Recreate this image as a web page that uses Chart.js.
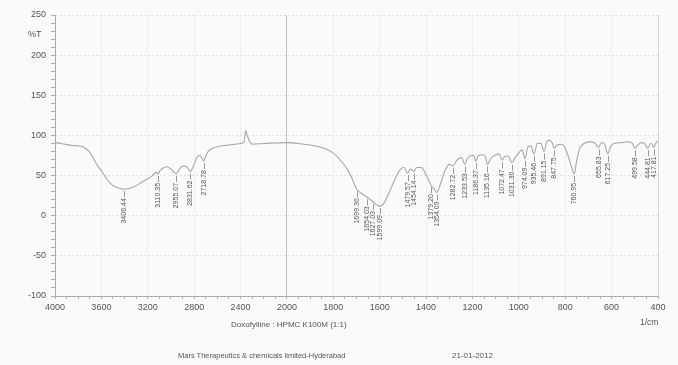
<!DOCTYPE html>
<html><head><meta charset="utf-8">
<script src="https://cdn.jsdelivr.net/npm/chart.js@4.4.0/dist/chart.umd.min.js"></script>
<style>
html,body{margin:0;padding:0;background:#fcf9fb;}
#wrap{position:relative;width:678px;height:365px;overflow:hidden;}
canvas{position:absolute;left:0;top:0;}
.t{position:absolute;font-family:"Liberation Sans",Arial,sans-serif;color:#555;white-space:nowrap;line-height:1;}
</style></head><body>
<div id="wrap">
<canvas id="c" width="678" height="365"></canvas>
<div class="t" style="left:28px;top:30px;font-size:9px">%T</div>
<div class="t" style="left:640px;top:318px;font-size:8.5px">1/cm</div>
<div class="t" style="left:231px;top:321px;font-size:8px">Doxofylline : HPMC K100M (1:1)</div>
<div class="t" style="left:178px;top:352px;font-size:7.5px">Mars Therapeutics &amp; chemicals limited-Hyderabad</div>
<div class="t" style="left:452px;top:352px;font-size:8px">21-01-2012</div>
</div>
<script>
const xTickLabels = [4000,3600,3200,2800,2400,2000,1800,1600,1400,1200,1000,800,600,400];
const yTickLabels = [-100,-50,0,50,100,150,200,250];

const wavenumbers = [4000,3950,3900,3850,3800,3760,3730,3700,3670,3640,3600,3560,3520,3480,3440,3406,3370,3320,3280,3240,3200,3160,3125,3110,3095,3060,3030,3000,2970,2955,2940,2910,2890,2865,2845,2832,2815,2790,2770,2750,2730,2719,2700,2680,2640,2600,2500,2400,2370,2355,2340,2320,2300,2200,2100,2000,
1950,1900,1850,1800,1760,1740,1720,1699,1680,1654,1627,1610,1599,1585,1570,1550,1530,1510,1495,1480,1468,1460,1454,1440,1420,1405,1390,1379,1365,1354,1340,1320,1300,1283,1270,1250,1245,1234,1222,1205,1195,1186,1175,1160,1145,1135,1122,1100,1085,1072,1060,1045,1031,1015,995,985,974,960,948,935,920,905,891,878,865,855,848,835,815,800,785,770,761,752,740,720,690,670,656,645,630,617,605,590,560,530,510,500,488,470,455,445,432,425,418,410,400];
const transmittance = [91,90,88.5,87.5,87,86,83,79,72,64,56,47,40,36,34,33,33.5,36,39,43,46,50,54,52,56,60,61,58,54,52,55,61,62,61,57,55,59,68,74,75,71,68,74,80,84,86,88,90,92,106,99,92,89,90,90.5,91,
90,88,85,78,66,58,47,33,28,23,17,13,12,14,22,35,48,58,60,53,58,57,55,60,60,54,45,38,33,29,38,55,64,62,68,72,72,64,71,75,75,68,75,76,74,64,71,76,77,69,74,74,66,73,80,82,71,86,87,77,90,90,80,93,94,90,84,88,89,84,72,58,52,66,82,90,92,90,85,91,89,77,86,90,91,92,90,84,88,91,89,84,90,89,85,90,93];

const peakWn = [3406.44,3110.35,2955.07,2831.62,2718.78,1699.36,1654.03,1627.03,1599.09,1479.57,1454.14,1379.20,1354.09,1282.72,1233.53,1186.37,1135.16,1072.47,1031.30,974.09,935.46,891.15,847.75,760.95,655.83,617.25,499.58,444.81,417.81];
const peakT  = [33,52,52,55,68,33,23,17,12,53,55,38,29,62,64,68,64,69,66,71,77,80,84,52,85,77,84,84,85];
const peakText = ["3406.44","3110.35","2955.07","2831.62","2718.78","1699.36","1654.03","1627.03","1599.09","1479.57","1454.14","1379.20","1354.09","1282.72","1233.53","1186.37","1135.16","1072.47","1031.30","974.09","935.46","891.15","847.75","760.95","655.83","617.25","499.58","444.81","417.81"];

// Shimadzu-style axis: 4000-2000 at half scale
function u(wn){ return wn >= 2000 ? (4000 - wn) / 2 : 1000 + (2000 - wn); }
const majorU = xTickLabels.map(u);

const FONT = '"Liberation Sans", Arial, sans-serif';

const peakPlugin = {
  id: 'peaks',
  afterDatasetsDraw(chart){
    const ctx = chart.ctx, xs = chart.scales.x, ys = chart.scales.y, a = chart.chartArea;
    ctx.save();
    ctx.strokeStyle = '#d2ced2'; ctx.lineWidth = 1;
    ctx.beginPath(); ctx.moveTo(a.right + 0.5, a.top); ctx.lineTo(a.right + 0.5, a.bottom); ctx.stroke();
    ctx.strokeStyle = '#999'; ctx.fillStyle = '#555';
    ctx.font = '7px ' + FONT;
    ctx.textAlign = 'right'; ctx.textBaseline = 'middle';
    for (let i = 0; i < peakWn.length; i++){
      const px = Math.round(xs.getPixelForValue(u(peakWn[i]))) + 0.5;
      const py = ys.getPixelForValue(peakT[i]);
      ctx.beginPath(); ctx.moveTo(px, py + 2); ctx.lineTo(px, py + 8); ctx.stroke();
      ctx.save(); ctx.translate(px, py + 9); ctx.rotate(-Math.PI / 2);
      ctx.fillText(peakText[i], 0, 0); ctx.restore();
    }
    ctx.restore();
  }
};

new Chart(document.getElementById('c'), {
  type: 'line',
  data: { datasets: [{
    data: wavenumbers.map((w, i) => ({ x: u(w), y: transmittance[i] })),
    borderColor: '#a8a5a8', borderWidth: 1.1, pointRadius: 0,
    cubicInterpolationMode: 'monotone', fill: false
  }]},
  options: {
    responsive: false, animation: false, devicePixelRatio: 1,
    layout: { padding: { left: 0, right: 20, top: 15, bottom: 0 } },
    plugins: { legend: { display: false }, tooltip: { enabled: false } },
    scales: {
      x: {
        type: 'linear', min: 0, max: 2600,
        afterBuildTicks: s => { const t = []; for (let v = 0; v <= 2600; v += 50) t.push({ value: v }); s.ticks = t; },
        afterFit: s => { s.height = 69; },
        ticks: { autoSkip: false, maxRotation: 0, padding: 3, color: '#555', font: { family: FONT, size: 9 },
          callback: v => { const i = majorU.indexOf(v); return i >= 0 ? String(xTickLabels[i]) : ''; } },
        grid: { tickLength: 3, tickColor: '#b5b2b5',
          color: c => { const v = c.tick ? c.tick.value : -1; if (v === 1000) return '#c2bec2'; return majorU.includes(v) ? '#f1edf1' : 'rgba(0,0,0,0)'; } },
        border: { color: '#aaa' }
      },
      y: {
        min: -100, max: 250,
        afterBuildTicks: s => { const t = []; for (let v = -100; v <= 250; v += 10) t.push({ value: v }); s.ticks = t; },
        afterFit: s => { s.width = 55; },
        ticks: { autoSkip: false, padding: 5, color: '#555', font: { family: FONT, size: 9 },
          callback: v => yTickLabels.includes(v) ? String(v) : '' },
        grid: { tickLength: 4, tickColor: '#b5b2b5',
          color: c => { const v = c.tick ? c.tick.value : 1; return yTickLabels.includes(v) ? '#e3dfe3' : 'rgba(0,0,0,0)'; } },
        border: { color: '#aaa', dash: [2, 2] }
      }
    }
  },
  plugins: [peakPlugin]
});
</script>
</body></html>
